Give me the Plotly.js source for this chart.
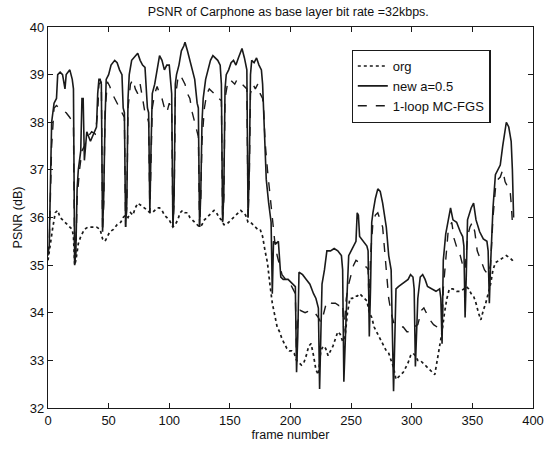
<!DOCTYPE html>
<html>
<head>
<meta charset="utf-8">
<script src="https://cdn.plot.ly/plotly-3.0.1.min.js"></script>
<style>html,body{margin:0;padding:0;background:#fff;}#chart{width:544px;height:453px;}</style>
</head>
<body>
<div id="chart"></div>
<script>
const orgFrames = [0,2,4,6,8,10,12,14,16,18,20,21,22,23,25,27,30,33,36,40,43,45,47,49,51,54,57,60,62,64,66,68,70,72,74,77,80,82,84,86,88,90,92,94,96,98,100,102,103,105,107,109,111,113,115,117,119,121,123,125,127,129,131,133,135,137,139,141,143,145,147,149,151,153,155,157,159,161,163,165,167,169,171,173,175,177,179,181,183,185,187,189,191,193,195,197,199,201,203,205,207,209,211,213,215,217,219,221,223,225,227,229,231,233,235,237,239,241,243,245,247,249,251,253,255,257,259,261,263,265,267,269,271,273,275,277,279,281,283,285,287,289,291,293,295,297,299,301,303,305,307,309,311,313,315,317,319,321,323,325,327,329,331,334,337,340,343,345,347,349,351,353,355,357,359,361,363,365,367,369,372,375,378,381,383,384];
const orgPsnr = [35.1,35.5,35.8,36.1,36.15,36.0,35.95,35.9,35.85,35.8,35.75,35.6,35.0,35.1,35.45,35.6,35.75,35.8,35.8,35.8,35.75,35.55,35.5,35.6,35.7,35.75,35.85,35.9,36.0,36.05,36.0,36.1,36.05,36.2,36.3,36.25,36.2,36.15,36.1,36.1,36.15,36.2,36.2,36.15,36.05,36.0,35.95,35.85,35.8,35.85,35.95,36.1,36.15,36.1,36.1,36.0,35.95,35.9,35.85,35.8,35.85,35.95,36.0,36.05,36.1,36.15,36.1,36.0,35.95,35.85,35.85,35.9,35.95,36.0,36.05,36.1,36.15,36.1,36.05,35.9,35.9,35.85,35.8,35.75,35.75,35.6,35.3,35.05,34.6,34.2,33.95,33.7,33.6,33.45,33.35,33.25,33.2,33.2,33.15,33.0,32.95,32.9,32.95,33.1,33.3,33.35,33.1,32.8,32.7,33.2,33.3,33.25,33.1,33.2,33.3,33.45,33.6,33.55,33.4,33.5,34.0,34.3,34.3,34.35,34.35,34.4,34.35,34.3,34.25,34.0,33.9,33.7,33.6,33.5,33.4,33.3,33.2,33.15,33.0,32.85,32.6,32.65,32.7,32.75,32.85,32.95,33.1,33.15,33.1,33.0,33.0,32.95,32.9,32.85,32.8,32.75,32.7,33.0,33.3,33.6,34.0,34.3,34.5,34.5,34.45,34.45,34.5,34.55,34.5,34.4,34.35,34.2,34.0,33.85,34.05,34.2,34.4,34.6,34.9,35.05,35.1,35.15,35.2,35.15,35.1,35.05];

const newFrames = [0,1,3,5,7,8,10,12,14,15,18,20,21,22,23,24,25,27,28,29,30,32,35,38,40,41,42,43,44,45,46,47,48,50,52,55,57,59,61,62,63,64,65,66,67,69,72,74,76,78,80,81,82,83,84,85,86,88,90,92,94,96,98,100,101,102,103,104,105,106,108,110,112,113,115,117,119,121,123,124,125,126,127,128,130,132,134,136,138,140,142,143,144,145,146,147,149,151,153,155,157,159,160,162,164,165,166,167,168,170,172,174,176,177,178,179,180,182,184,185,186,188,190,192,194,198,202,204,205,206,207,210,213,216,219,221,223,224,225,226,228,230,233,236,239,242,243,244,246,248,250,252,254,255,256,257,260,263,264,265,266,267,268,270,272,274,276,277,279,281,283,285,287,289,292,295,297,299,301,302,303,305,307,309,311,313,316,320,323,324,325,326,328,330,332,334,337,340,342,343,344,345,346,349,351,353,356,359,362,363,364,365,367,369,371,373,375,377,378,380,382,383,384];
const newPsnr = [35.3,35.4,38.0,38.4,38.5,39.0,39.05,39.0,38.7,39.0,39.1,38.9,38.7,35.0,35.3,36.6,37.0,37.4,38.5,38.5,37.2,37.8,37.6,37.8,37.9,38.6,38.9,38.9,38.8,35.7,36.5,38.0,38.9,39.0,39.2,39.3,39.25,39.1,39.0,38.3,38.2,35.8,36.3,38.5,39.0,39.3,39.4,39.45,39.3,39.2,39.15,38.6,38.3,38.2,36.1,37.5,38.6,38.8,39.1,39.4,39.3,39.1,39.2,39.2,38.9,38.6,35.8,36.4,38.8,39.0,39.2,39.5,39.6,39.68,39.5,39.3,39.1,38.9,38.4,38.3,35.8,36.5,38.0,38.5,38.9,39.1,39.3,39.4,39.35,39.3,39.2,38.8,35.9,36.5,38.7,39.0,39.1,39.25,39.3,39.2,39.35,39.5,39.55,39.35,39.1,36.0,37.0,39.0,39.3,39.25,39.35,39.2,39.1,38.8,38.0,37.2,36.8,36.3,35.9,34.4,35.5,35.45,35.5,34.75,34.7,34.7,34.6,34.55,32.75,33.5,34.85,34.8,34.7,34.6,34.4,34.3,34.1,32.4,33.5,34.6,34.9,35.3,35.3,35.35,35.3,35.2,34.9,32.55,34.0,35.2,35.3,35.4,35.5,36.1,36.05,35.6,35.5,35.4,35.3,33.5,34.5,35.9,36.1,36.4,36.6,36.55,36.3,36.15,35.8,35.2,34.9,32.35,34.5,34.55,34.6,34.65,34.7,34.8,34.75,34.5,32.87,34.3,34.75,34.8,34.7,34.55,34.5,34.45,34.5,34.3,33.35,35.1,35.65,35.9,36.2,35.95,35.9,35.7,35.6,35.4,33.9,34.8,35.95,36.2,36.3,35.95,35.7,35.55,35.5,35.3,34.2,35.0,36.2,36.9,37.0,37.1,37.5,37.9,38.0,37.9,37.6,37.0,36.0];

const mcFrames = [0,1,3,5,7,9,12,15,18,20,21,22,23,24,26,28,30,33,36,39,41,42,44,45,46,47,49,51,53,55,57,59,61,63,64,65,66,68,70,72,74,76,78,80,82,83,84,85,86,88,90,92,94,96,98,100,102,103,104,105,107,109,111,113,115,117,119,121,123,124,125,126,127,129,131,133,135,137,139,141,143,144,145,146,148,150,152,154,156,158,160,162,164,165,166,167,169,171,173,175,177,178,179,181,183,185,187,189,191,193,196,199,202,204,205,206,208,212,216,220,223,225,227,229,231,234,237,240,243,244,246,248,250,252,254,257,260,263,264,265,266,268,270,272,274,276,277,279,281,283,285,287,290,293,296,299,302,305,308,310,312,315,318,321,324,325,326,328,330,333,335,338,340,342,344,346,348,350,352,354,357,360,363,365,367,369,371,373,375,377,379,381,382,383];
const mcPsnr = [35.2,35.4,37.5,38.3,38.35,38.3,38.25,38.2,38.1,38.0,37.9,35.0,35.3,36.4,37.0,37.4,37.5,37.7,37.8,37.75,38.2,38.8,38.85,35.7,36.3,38.2,38.85,38.75,38.6,38.5,38.4,38.3,38.2,38.1,35.8,36.2,38.3,38.8,38.9,38.7,38.6,38.8,38.5,38.2,38.1,38.0,36.1,37.2,38.3,38.6,38.75,38.6,38.5,38.3,38.2,38.4,38.3,35.8,36.3,38.5,38.9,39.0,38.9,38.8,38.6,38.5,38.2,38.0,37.8,37.7,35.8,36.4,37.6,38.3,38.6,38.7,38.65,38.6,38.5,38.5,38.45,35.9,36.4,38.5,38.8,38.9,38.85,38.8,38.9,38.85,38.8,38.75,38.7,36.0,36.8,38.6,38.8,38.7,38.8,38.6,38.5,38.2,37.6,37.0,36.5,36.0,35.5,35.2,35.0,34.8,34.7,34.65,34.5,34.4,33.0,33.8,34.05,34.0,34.05,34.0,33.9,33.8,33.95,34.15,34.25,34.2,34.2,34.15,34.2,33.6,34.3,34.6,34.8,35.0,35.1,35.05,35.0,34.95,34.9,34.0,35.2,35.9,36.05,36.1,35.95,35.8,35.5,34.9,34.3,34.0,33.8,33.75,33.7,33.7,33.6,33.6,33.7,33.75,34.05,34.1,34.0,33.85,33.75,33.7,33.7,33.6,34.5,35.2,35.7,35.9,35.55,35.3,35.2,35.0,34.9,35.6,35.8,35.9,35.7,35.3,35.1,34.9,34.8,35.0,36.0,36.6,36.8,36.85,37.0,36.75,36.65,36.6,36.3,35.9];

const seriesNames = ['org', 'new a=0.5', '1-loop MC-FGS'];
const xTicks = [0,50,100,150,200,250,300,350,400];
const yTicks = [32,33,34,35,36,37,38,39,40];

const ink = '#1a1a1a';
const traces = [
  {x: orgFrames, y: orgPsnr, name: seriesNames[0], mode: 'lines', line: {color: ink, width: 1.7, dash: 'dot'}},
  {x: newFrames, y: newPsnr, name: seriesNames[1], mode: 'lines', line: {color: ink, width: 1.6}},
  {x: mcFrames, y: mcPsnr, name: seriesNames[2], mode: 'lines', line: {color: ink, width: 1.4, dash: 'dash'}}
];

const font = {family: 'Liberation Sans, Arial, sans-serif', color: '#111'};
const layout = {
  width: 544, height: 453,
  margin: {l: 48, r: 11, t: 27, b: 45},
  paper_bgcolor: '#fff', plot_bgcolor: '#fff',
  font: Object.assign({size: 12}, font),
  title: {text: 'PSNR of Carphone as base layer bit rate =32kbps.', x: 0.53, xanchor: 'center', y: 0.985, yanchor: 'top', font: Object.assign({size: 12.5}, font)},
  xaxis: {
    range: [0, 400], tickvals: xTicks, ticktext: xTicks.map(String),
    ticks: 'inside', ticklen: 5, tickcolor: ink, mirror: 'ticks',
    showline: true, linecolor: ink, linewidth: 1.2, showgrid: false, zeroline: false,
    tickfont: Object.assign({size: 13}, font),
    title: {text: 'frame number', standoff: 3, font: Object.assign({size: 12.5}, font)}
  },
  yaxis: {
    range: [32, 40], tickvals: yTicks, ticktext: yTicks.map(String),
    ticks: 'inside', ticklen: 5, tickcolor: ink, mirror: 'ticks',
    showline: true, linecolor: ink, linewidth: 1.2, showgrid: false, zeroline: false,
    tickfont: Object.assign({size: 13}, font),
    title: {text: 'PSNR (dB)', standoff: 4, font: Object.assign({size: 12.5}, font)}
  },
  legend: {
    x: 0.626, y: 0.94, xanchor: 'left', yanchor: 'top',
    bgcolor: '#fff', bordercolor: ink, borderwidth: 1.2,
    font: Object.assign({size: 13}, font), tracegroupgap: 0, itemwidth: 30
  },
  showlegend: true
};

Plotly.newPlot('chart', traces, layout, {displayModeBar: false, staticPlot: true});
</script>
</body>
</html>
